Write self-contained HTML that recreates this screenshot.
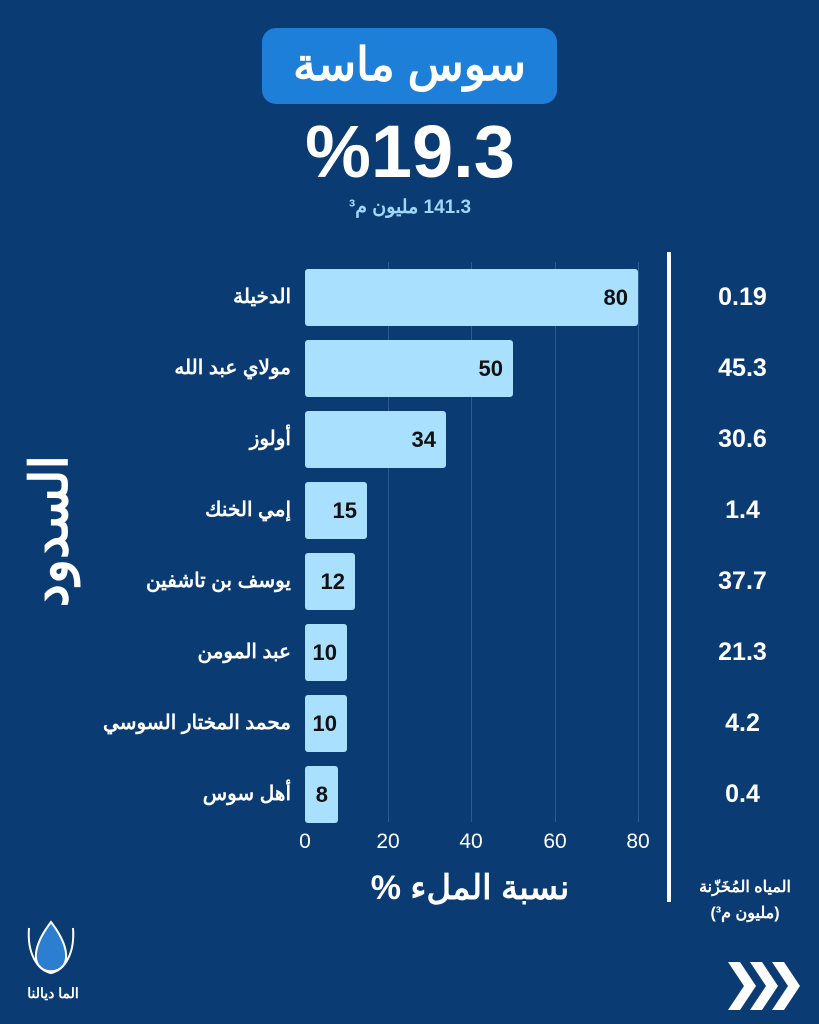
<!DOCTYPE html>
<html><head><meta charset="utf-8"><style>
body{margin:0;width:819px;height:1024px;background:#0b3b73;position:relative;overflow:hidden;font-family:"Liberation Sans","Noto Sans CJK SC",sans-serif;color:#fff;font-weight:bold}
.a{position:absolute}
.bar{position:absolute;left:305px;height:57px;background:#a8e0fd;color:#111;font-size:22px;line-height:57px;text-align:right;box-sizing:border-box;padding-right:10px;border-radius:3px}
.lab{position:absolute;right:528px;font-size:20px;line-height:57px;white-space:nowrap;direction:rtl}
.val{position:absolute;left:690px;width:105px;text-align:center;font-size:25px;line-height:57px}
.tick{position:absolute;top:830px;width:40px;margin-left:-20px;text-align:center;font-size:21px;font-weight:normal}
.g{position:absolute;top:262px;height:560px;width:1px;background:#2a5b92}
</style></head><body>
<div class="a" style="left:262px;top:28px;width:295px;height:76px;background:#1e7fd8;border-radius:14px;text-align:center;line-height:72px;font-size:46px;direction:rtl">سوس ماسة</div>
<div class="a" style="left:250px;top:110px;width:320px;text-align:center;font-size:74px;line-height:84px">%19.3</div>
<div class="a" style="left:250px;top:196px;width:320px;text-align:center;font-size:19px;color:#9fd7f7;direction:rtl">141.3 مليون م³</div>
<div class="g" style="left:388px"></div><div class="g" style="left:471px"></div><div class="g" style="left:555px"></div><div class="g" style="left:638px"></div>
<div class="bar" style="top:269px;width:333px">80</div>
<div class="bar" style="top:340px;width:208px">50</div>
<div class="bar" style="top:411px;width:141px">34</div>
<div class="bar" style="top:482px;width:62px">15</div>
<div class="bar" style="top:553px;width:50px">12</div>
<div class="bar" style="top:624px;width:42px">10</div>
<div class="bar" style="top:695px;width:42px">10</div>
<div class="bar" style="top:766px;width:33px">8</div>
<div class="lab" style="top:269px">الدخيلة</div>
<div class="lab" style="top:340px">مولاي عبد الله</div>
<div class="lab" style="top:411px">أولوز</div>
<div class="lab" style="top:482px">إمي الخنك</div>
<div class="lab" style="top:553px">يوسف بن تاشفين</div>
<div class="lab" style="top:624px">عبد المومن</div>
<div class="lab" style="top:695px">محمد المختار السوسي</div>
<div class="lab" style="top:766px">أهل سوس</div>
<div class="val" style="top:269px">0.19</div>
<div class="val" style="top:340px">45.3</div>
<div class="val" style="top:411px">30.6</div>
<div class="val" style="top:482px">1.4</div>
<div class="val" style="top:553px">37.7</div>
<div class="val" style="top:624px">21.3</div>
<div class="val" style="top:695px">4.2</div>
<div class="val" style="top:766px">0.4</div>
<div class="tick" style="left:305px">0</div><div class="tick" style="left:388px">20</div><div class="tick" style="left:471px">40</div><div class="tick" style="left:555px">60</div><div class="tick" style="left:638px">80</div>
<div class="a" style="left:667px;top:252px;width:4px;height:650px;background:#fff"></div>
<div class="a" style="left:340px;top:868px;width:260px;text-align:center;font-size:34px;direction:rtl">نسبة الملء %</div>
<div class="a" style="left:680px;top:875px;width:130px;text-align:center;font-size:16px;line-height:26px;direction:rtl">المياه المُخَزّنة<br>(مليون م³)</div>
<div class="a" style="left:-25px;top:500px;width:150px;height:60px;line-height:60px;text-align:center;font-size:52px;transform:rotate(-90deg);direction:rtl">السدود</div>
<svg class="a" style="left:25px;top:918px" width="52" height="60" viewBox="0 0 52 60"><path d="M26 4 C10 25 8 40 14 48 C20 55 32 55 38 48 C44 40 42 25 26 4Z" fill="#2c7fd0" stroke="#fff" stroke-width="2"/><path d="M4 10 C2 35 12 52 26 55 C40 52 50 35 48 10" fill="none" stroke="#fff" stroke-width="2"/></svg>
<div class="a" style="left:18px;top:985px;width:70px;text-align:center;font-size:14px;direction:rtl">الما ديالنا</div>
<svg class="a" style="left:726px;top:960px" width="80" height="52" viewBox="0 0 80 52"><g fill="#fff"><path d="M2 2h12l16 24-16 24H2l16-24z"/><path d="M24 2h12l16 24-16 24H24l16-24z"/><path d="M46 2h12l16 24-16 24H46l16-24z"/></g></svg>
</body></html>
